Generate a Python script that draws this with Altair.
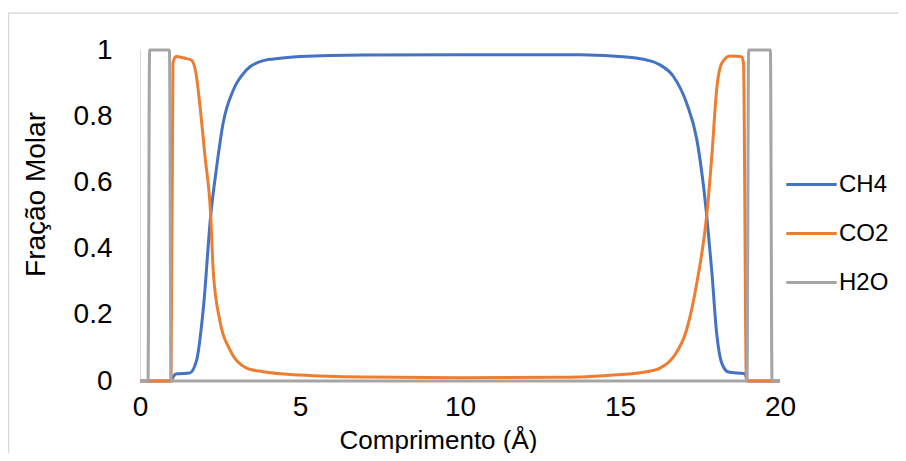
import altair as alt
import pandas as pd

# CH4 series
ch4_x = [0, 0.97, 1.05, 1.15, 1.55, 1.77, 1.98, 2.21, 2.4, 2.6, 2.92, 3.33, 3.85, 4.375, 5, 7, 10, 13.75,
         15.3, 15.83, 16.25, 16.67, 17.08, 17.4, 17.71, 17.87, 18.02, 18.18, 18.39, 18.9, 19.0, 20]
ch4_y = [0, 0, 0.015, 0.022, 0.024, 0.063, 0.22, 0.5, 0.65, 0.78, 0.88, 0.94, 0.968, 0.975, 0.98, 0.985, 0.986, 0.986,
         0.978, 0.97, 0.955, 0.92, 0.84, 0.73, 0.5, 0.33, 0.145, 0.054, 0.027, 0.022, 0, 0]

# CO2 series
co2_x = [0, 0.97, 1.03, 1.12, 1.4, 1.6, 1.75, 1.875, 2.03, 2.21, 2.29, 2.5, 2.81, 3.33, 3.85, 5, 7, 10, 13,
         13.75, 14.79, 15.83, 16.25, 16.67, 17.08, 17.4, 17.71, 17.87, 18.02, 18.18, 18.44, 18.8, 18.86, 18.95, 20]
co2_y = [0, 0, 0.96, 0.98, 0.975, 0.97, 0.93, 0.83, 0.68, 0.5, 0.33, 0.18, 0.094, 0.039, 0.028, 0.018, 0.012, 0.01, 0.011,
         0.012, 0.018, 0.028, 0.039, 0.073, 0.154, 0.296, 0.5, 0.68, 0.88, 0.96, 0.982, 0.98, 0.96, 0, 0]

# H2O series
h2o_x = [0, 0.25, 0.3, 0.92, 0.97, 18.97, 19.02, 19.7, 19.75, 20]
h2o_y = [0, 0, 1, 1, 0, 0, 1, 1, 0, 0]

series_names = ["CH4", "CO2", "H2O"]
series_colors = ["#4472C4", "#ED7D31", "#A5A5A5"]

x_ticks = [0, 5, 10, 15, 20]
y_ticks = [0, 0.2, 0.4, 0.6, 0.8, 1]

rows = []
for name, xs, ys in [("CH4", ch4_x, ch4_y), ("CO2", co2_x, co2_y), ("H2O", h2o_x, h2o_y)]:
    for i, (xv, yv) in enumerate(zip(xs, ys)):
        rows.append({"x": xv, "y": yv, "serie": name, "i": i})
df = pd.DataFrame(rows)

FONT = "Liberation Sans"

lines = alt.Chart(df).mark_line(strokeWidth=3, interpolate="monotone").encode(
    x=alt.X("x:Q", scale=alt.Scale(domain=[0, 20], nice=False, padding=0, zero=False),
            axis=alt.Axis(values=x_ticks, title="Comprimento (Å)", grid=False, ticks=False,
                          labelFlush=False, labelOverlap=False,
                          domainColor="#D9D9D9", domainWidth=1, labelFontSize=28, labelFont=FONT,
                          labelColor="#000000", labelPadding=12, titleFont=FONT, titleFontSize=26,
                          titleFontWeight="normal", titleColor="#000000",
                          titleX=298, titleY=67, titleBaseline="alphabetic", titleAlign="center")),
    y=alt.Y("y:Q", scale=alt.Scale(domain=[0, 1], nice=False, padding=0),
            axis=alt.Axis(values=y_ticks, labelExpr="'' + datum.value", title="Fração Molar", grid=False,
                          labelFlush=False, labelOverlap=False,
                          ticks=False, domainColor="#D9D9D9", domainWidth=1, labelFontSize=28,
                          labelFont=FONT, labelColor="#000000", labelPadding=28, titleFont=FONT,
                          titleFontSize=28, titleFontWeight="normal", titleColor="#000000",
                          titleX=-96, titleY=144, titleBaseline="alphabetic", titleAlign="center")),
    color=alt.Color("serie:N", scale=alt.Scale(domain=series_names, range=series_colors),
                    legend=alt.Legend(title=None, orient="none", legendX=649, legendY=112,
                                      symbolType="M-1.2,0H1.2", symbolSize=1764, symbolStrokeWidth=3,
                                      labelFont=FONT, labelFontSize=24, labelColor="#000000",
                                      labelOffset=5, rowPadding=14)),
    order="i:Q",
)

border_df = pd.DataFrame({"k": [0]})
border = alt.Chart(border_df).mark_rect(fill=None, stroke="#D9D9D9", strokeWidth=1.5).encode(
    x=alt.value(-131.5), x2=alt.value(1000), y=alt.value(-37), y2=alt.value(1000)
)

chart = alt.layer(border, lines).properties(
    width=640, height=331,
    autosize=alt.AutoSizeParams(type="none"),
    padding={"left": 132, "top": 42, "right": 118, "bottom": 72},
).configure_view(stroke=None)

chart.save("out.html", embed_options={"renderer": "svg", "actions": False})
